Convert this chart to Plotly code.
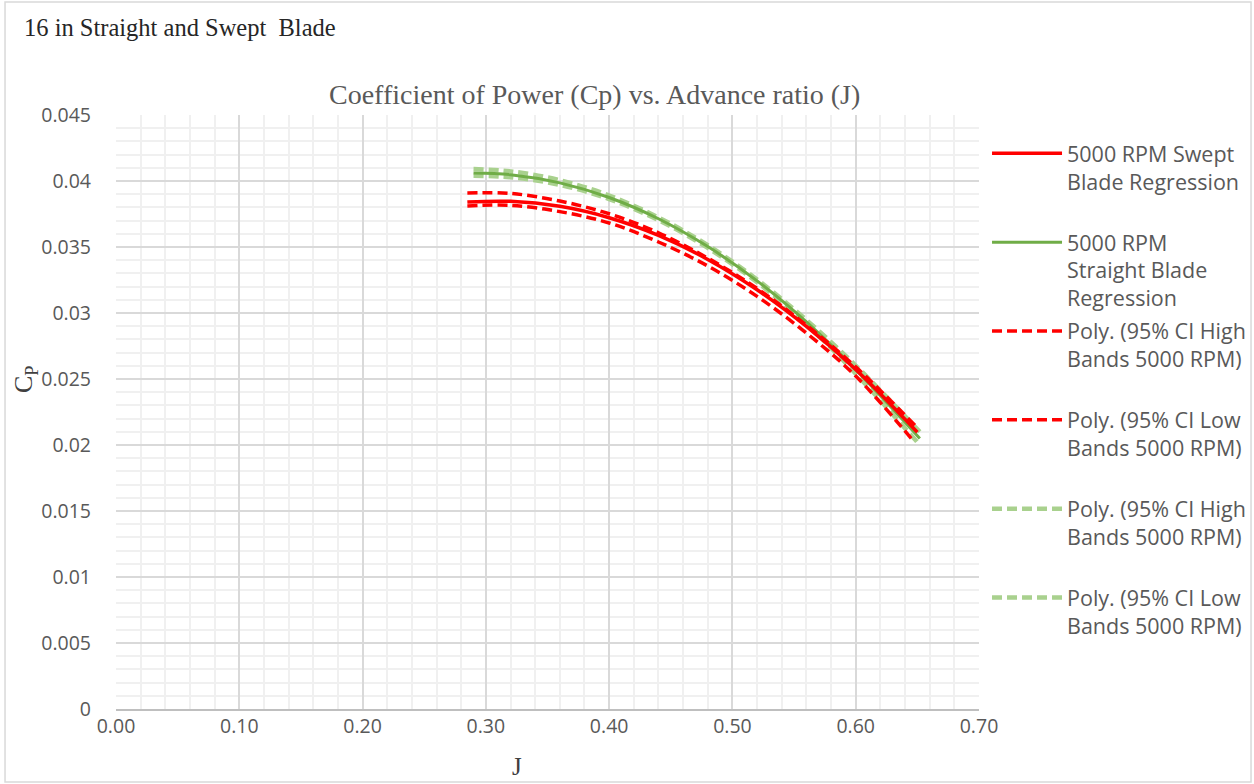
import plotly.graph_objects as go

# ---- data ----
J_red = [0.285, 0.32, 0.36, 0.40, 0.44, 0.48, 0.52, 0.56, 0.60, 0.65]
cp_swept = [0.0384, 0.03846, 0.03808, 0.03722, 0.03588, 0.03406, 0.03176, 0.02898, 0.02572, 0.02097]
J_red_hi = [0.285, 0.32, 0.36, 0.40, 0.44, 0.48, 0.52, 0.56, 0.60, 0.648]
cp_swept_hi = [0.0391, 0.03906, 0.03848, 0.03752, 0.03608, 0.03416, 0.03186, 0.02908, 0.02592, 0.0215]
J_red_lo = [0.285, 0.32, 0.36, 0.40, 0.44, 0.48, 0.52, 0.56, 0.60, 0.645]
cp_swept_lo = [0.0381, 0.03816, 0.03768, 0.03682, 0.03538, 0.03356, 0.03126, 0.02848, 0.02522, 0.0205]

J_green = [0.29, 0.32, 0.36, 0.40, 0.44, 0.48, 0.52, 0.56, 0.60, 0.652]
cp_straight = [0.0406, 0.04048, 0.03986, 0.03875, 0.03714, 0.03503, 0.03243, 0.02932, 0.02571, 0.0205]
cp_straight_hi = [0.0409, 0.04073, 0.04006, 0.0389, 0.03724, 0.03513, 0.03253, 0.02947, 0.02601, 0.0210]
cp_straight_lo = [0.0404, 0.04028, 0.03971, 0.03863, 0.03704, 0.03493, 0.03233, 0.02917, 0.02541, 0.0200]

# legend names (a blank third line keeps the Excel-like even spacing)
names = [
    "5000 RPM Swept<br>Blade Regression<br> ",
    "5000 RPM<br>Straight Blade<br>Regression",
    "Poly. (95% CI High<br>Bands 5000 RPM)<br> ",
    "Poly. (95% CI Low<br>Bands 5000 RPM)<br> ",
    "Poly. (95% CI High<br>Bands 5000 RPM)<br> ",
    "Poly. (95% CI Low<br>Bands 5000 RPM)<br> ",
]

RED = "#ff0000"
GREEN = "#70ad47"
LGREEN = "#a9d18e"
DASH = "10px,5px"

fig = go.Figure()

def add(x, y, name, color, width, dash, rank):
    fig.add_trace(go.Scatter(
        x=x, y=y, name=name, mode="lines", line_shape="spline",
        line=dict(color=color, width=width, dash=dash),
        legendrank=rank, legendgroup=str(rank),
    ))

add(J_green, cp_straight_hi, names[4], LGREEN, 4.5, DASH, 5)
add(J_green, cp_straight_lo, names[5], LGREEN, 4.5, DASH, 6)
add(J_green, cp_straight, names[1], GREEN, 3, "solid", 2)
add(J_red_hi, cp_swept_hi, names[2], RED, 3.5, DASH, 3)
add(J_red_lo, cp_swept_lo, names[3], RED, 3.5, DASH, 4)
add(J_red, cp_swept, names[0], RED, 3.5, "solid", 1)

TICKFONT = dict(family="Open Sans", size=19.5, color="#595959")
SERIF = "Liberation Serif"

fig.update_layout(
    width=1254, height=784,
    paper_bgcolor="white", plot_bgcolor="white",
    margin=dict(l=116, r=275, t=115, b=75, autoexpand=False),
    showlegend=True,
    legend=dict(
        x=1.0093, xref="paper", y=0.97, xanchor="left", yanchor="top",
        font=dict(family="Open Sans", size=21.5, color="#595959"),
        tracegroupgap=2, itemwidth=70, valign="top",
        bgcolor="rgba(0,0,0,0)",
    ),
    xaxis=dict(
        range=[0, 0.70], dtick=0.1, tick0=0, tickformat=".2f",
        showgrid=True, gridcolor="#d9d9d9", gridwidth=1.5,
        minor=dict(dtick=0.02, showgrid=True, gridcolor="#f0f0f0", gridwidth=1.5),
        showline=True, linecolor="#bfbfbf", linewidth=1.5,
        zeroline=False, ticks="", tickfont=TICKFONT, ticklabelstandoff=-1,
    ),
    yaxis=dict(
        range=[0, 0.045], dtick=0.005, tick0=0, tickformat="~g",
        showgrid=True, gridcolor="#d9d9d9", gridwidth=1.5,
        minor=dict(dtick=0.001, showgrid=True, gridcolor="#f0f0f0", gridwidth=1.5),
        showline=False, zeroline=False, ticks="", tickfont=TICKFONT, ticklabelstandoff=24,
    ),
    annotations=[
        dict(text="16 in Straight and Swept  Blade", xref="paper", yref="paper",
             x=-0.1089, y=1.1465, xanchor="left", yanchor="middle", showarrow=False,
             font=dict(family=SERIF, size=24.5, color="#262626")),
        dict(text="Coefficient of Power (Cp) vs. Advance ratio (J)", xref="paper", yref="paper",
             x=0.555, y=1.0337, xanchor="center", yanchor="middle", showarrow=False,
             font=dict(family=SERIF, size=28, color="#595959")),
        dict(text="J", xref="paper", yref="paper",
             x=0.4647, y=-0.0976, xanchor="center", yanchor="middle", showarrow=False,
             font=dict(family=SERIF, size=25, color="#404040")),
        dict(text="C<sub>P</sub>", xref="paper", yref="paper", textangle=-90,
             x=-0.1054, y=0.5539, xanchor="center", yanchor="middle", showarrow=False,
             font=dict(family=SERIF, size=26, color="#404040")),
    ],
    shapes=[
        dict(type="rect", xref="paper", yref="paper",
             x0=-0.1286, x1=1.3152, y0=-0.1229, y1=1.1902,
             line=dict(color="#d9d9d9", width=1.5), fillcolor="rgba(0,0,0,0)", layer="below"),
    ],
)

fig.write_html("out.html", post_script="document.body.style.margin='0';",
               config={"displayModeBar": False})
